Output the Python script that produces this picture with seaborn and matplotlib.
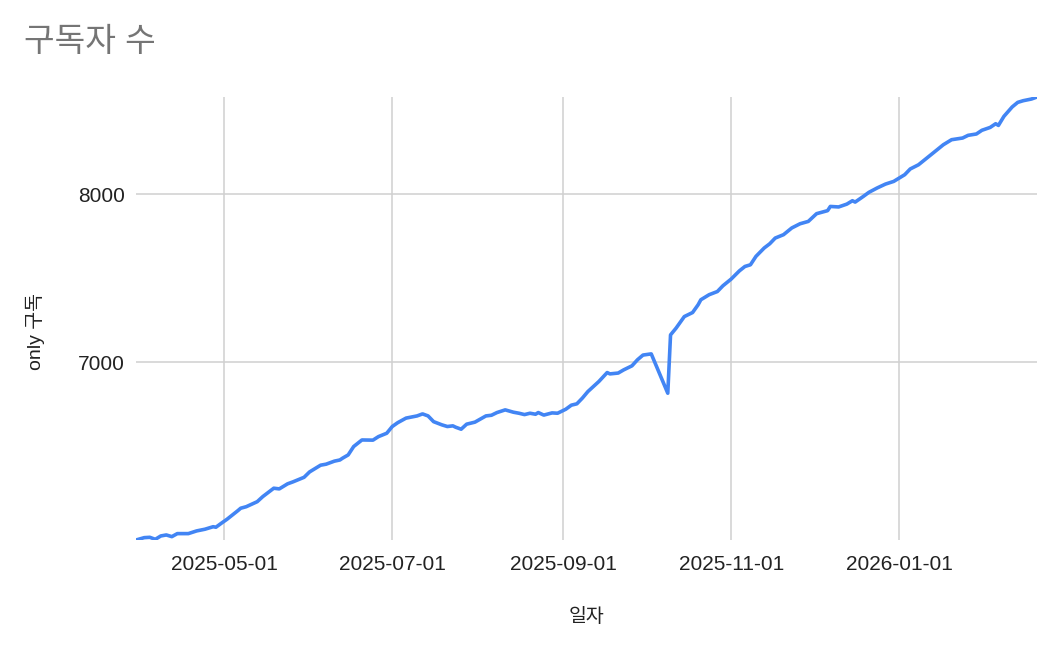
import matplotlib
matplotlib.use("Agg")
import matplotlib.pyplot as plt
import seaborn as sns
import pandas as pd

# ---- data ----
dates = [
    "2025-03-30", "2025-04-02", "2025-04-04", "2025-04-06", "2025-04-08", "2025-04-10",
    "2025-04-12", "2025-04-14", "2025-04-18", "2025-04-21", "2025-04-24", "2025-04-27",
    "2025-04-28", "2025-04-30", "2025-05-02", "2025-05-06", "2025-05-07", "2025-05-09",
    "2025-05-13", "2025-05-15", "2025-05-19", "2025-05-21", "2025-05-24", "2025-05-26",
    "2025-05-30", "2025-06-01", "2025-06-05", "2025-06-07", "2025-06-10", "2025-06-12",
    "2025-06-13", "2025-06-15", "2025-06-17", "2025-06-20", "2025-06-24", "2025-06-26",
    "2025-06-29", "2025-07-01", "2025-07-03", "2025-07-06", "2025-07-10", "2025-07-12",
    "2025-07-14", "2025-07-16", "2025-07-19", "2025-07-21", "2025-07-23", "2025-07-24",
    "2025-07-26", "2025-07-28", "2025-07-31", "2025-08-04", "2025-08-06", "2025-08-08",
    "2025-08-11", "2025-08-14", "2025-08-16", "2025-08-18", "2025-08-20", "2025-08-22",
    "2025-08-23", "2025-08-25", "2025-08-28", "2025-08-30", "2025-09-02", "2025-09-04",
    "2025-09-06", "2025-09-08", "2025-09-10", "2025-09-12", "2025-09-14", "2025-09-17",
    "2025-09-18", "2025-09-21", "2025-09-23", "2025-09-26", "2025-09-28", "2025-09-30",
    "2025-10-03", "2025-10-09", "2025-10-10", "2025-10-12", "2025-10-15", "2025-10-18",
    "2025-10-20", "2025-10-21", "2025-10-24", "2025-10-27", "2025-10-29", "2025-11-01",
    "2025-11-04", "2025-11-06", "2025-11-08", "2025-11-10", "2025-11-13", "2025-11-15",
    "2025-11-17", "2025-11-20", "2025-11-23", "2025-11-26", "2025-11-29", "2025-12-02",
    "2025-12-06", "2025-12-07", "2025-12-10", "2025-12-13", "2025-12-15", "2025-12-16",
    "2025-12-19", "2025-12-21", "2025-12-24", "2025-12-27", "2025-12-30", "2026-01-01",
    "2026-01-03", "2026-01-05", "2026-01-08", "2026-01-11", "2026-01-13", "2026-01-17",
    "2026-01-20", "2026-01-24", "2026-01-26", "2026-01-29", "2026-01-31", "2026-02-03",
    "2026-02-05", "2026-02-06", "2026-02-08", "2026-02-11", "2026-02-13", "2026-02-15",
    "2026-02-18", "2026-02-20",
]
subscribers = [
    5942, 5956, 5958, 5946, 5966, 5972,
    5962, 5980, 5980, 5996, 6006, 6021,
    6018, 6042, 6065, 6117, 6131, 6140,
    6170, 6200, 6250, 6246, 6276, 6288,
    6315, 6347, 6387, 6393, 6411, 6418,
    6429, 6448, 6498, 6537, 6536, 6557,
    6577, 6617, 6640, 6667, 6680, 6692,
    6680, 6646, 6627, 6617, 6621, 6613,
    6601, 6631, 6643, 6680, 6684, 6700,
    6716, 6702, 6696, 6688, 6696, 6690,
    6700, 6685, 6698, 6696, 6720, 6744,
    6752, 6786, 6825, 6855, 6885, 6938,
    6930, 6935, 6954, 6978, 7014, 7042,
    7049, 6815, 7162, 7202, 7271, 7295,
    7341, 7371, 7401, 7420, 7454, 7494,
    7543, 7569, 7579, 7629, 7679, 7704,
    7738, 7758, 7798, 7823, 7837, 7883,
    7901, 7926, 7923, 7940, 7960, 7952,
    7986, 8010, 8036, 8059, 8075, 8095,
    8115, 8149, 8174, 8214, 8240, 8293,
    8323, 8333, 8349, 8357, 8379, 8396,
    8418, 8408, 8462, 8518, 8545, 8555,
    8565, 8577,
]
x_tick_labels = ["2025-05-01", "2025-07-01", "2025-09-01", "2025-11-01", "2026-01-01"]
y_tick_values = [7000, 8000]

title = "구독자 수"
x_label = "일자"
y_label = "only 구독"

# ---- styling ----
sns.set_theme(style="white")
plt.rcParams["font.family"] = ["Liberation Sans", "Noto Sans CJK KR", "DejaVu Sans"]

W, H = 1056, 652
fig = plt.figure(figsize=(W / 100, H / 100), dpi=100)
fig.patch.set_facecolor("white")

left, right, top, bottom = 136, 1037, 97, 540
ax = fig.add_axes([left / W, 1 - bottom / H, (right - left) / W, (bottom - top) / H])

df = pd.DataFrame({x_label: pd.to_datetime(dates), y_label: subscribers})
sns.lineplot(data=df, x=x_label, y=y_label, ax=ax, color="#4285f4",
             linewidth=2.6, solid_joinstyle="round", solid_capstyle="round")

ax.set_xlim(df[x_label].min(), df[x_label].max())
ax.set_ylim(df[y_label].min(), df[y_label].max())
ax.set_xticks(pd.to_datetime(x_tick_labels))
ax.set_xticklabels(x_tick_labels)
ax.set_yticks(y_tick_values)
ax.set_yticklabels([str(v) for v in y_tick_values])

ax.grid(True, color="#d0d0d0", linewidth=1.1)
ax.set_axisbelow(True)
for s in ax.spines.values():
    s.set_visible(False)
ax.tick_params(length=0, labelsize=15, colors="#222222")
ax.tick_params(axis="x", pad=11)
ax.tick_params(axis="y", pad=8)
ax.set_xlabel("")
ax.set_ylabel("")

fig.text(24 / W, 1 - 43 / H, title, fontsize=24, color="#757575",
         ha="left", va="center")
fig.text((left + right) / 2 / W, 1 - 617 / H, x_label, fontsize=14,
         color="#222222", ha="center", va="center")
fig.text(35.5 / W, 1 - 332 / H, y_label, fontsize=14, color="#222222",
         rotation=90, ha="center", va="center")

fig.savefig("out.png", dpi=100)
